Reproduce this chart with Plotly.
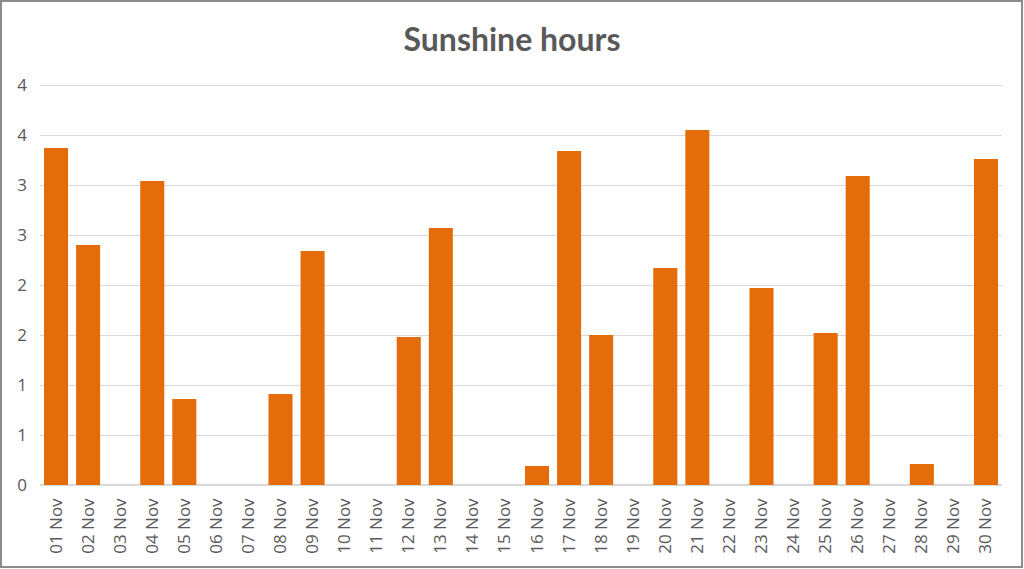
import plotly.graph_objects as go

days = [f"{d:02d} Nov" for d in range(1, 31)]
hours = [3.37, 2.40, 0, 3.04, 0.86, 0, 0, 0.91, 2.34, 0,
         0, 1.48, 2.57, 0, 0, 0.19, 3.34, 1.50, 0, 2.17,
         3.55, 0, 1.97, 0, 1.52, 3.09, 0, 0.21, 0, 3.26]
ytick_vals = [0, 0.5, 1, 1.5, 2, 2.5, 3, 3.5, 4]
ytick_text = ["0", "1", "1", "2", "2", "3", "3", "4", "4"]

W, H = 1024, 569
L, R, T, B = 40, 22, 80, 84
pw, ph = W - L - R, H - T - B
base = H - B  # pixel row of the plot bottom

fig = go.Figure(go.Bar(x=days, y=hours, marker=dict(color="#E46C0A", line=dict(width=0)),
                       width=0.75))
fig.update_layout(
    width=W, height=H,
    margin=dict(l=L, r=R, t=T, b=B),
    paper_bgcolor="white", plot_bgcolor="white",
    title=dict(text="<b>Sunshine hours</b>", x=0.5, xanchor="center", y=1 - 40 / H, yanchor="middle",
               font=dict(family="Lato", size=32, color="#595959")),
    font=dict(family="Open Sans", color="#595959", size=17),
    xaxis=dict(tickangle=-90, showgrid=False, showline=False, ticks="", range=[-0.5, 29.5],
               ticklabelstandoff=9, tickfont=dict(size=17, color="#595959")),
    yaxis=dict(range=[0, 4.05], tickvals=ytick_vals, ticktext=ytick_text, showgrid=True,
               gridcolor="#D9D9D9", gridwidth=1, zeroline=True, zerolinecolor="#D9D9D9",
               ticks="", showline=False, ticklabelstandoff=12,
               tickfont=dict(size=17, color="#595959")),
    showlegend=False,
    bargap=0.25,
    shapes=[dict(type="rect", xref="paper", yref="paper",
                 x0=(1 - L) / pw, x1=(W - 2 - L) / pw,
                 y0=(base - (H - 2)) / ph, y1=(base - 1) / ph,
                 line=dict(color="#8C8C8C", width=2), fillcolor="rgba(0,0,0,0)")],
)
fig.write_html("out.html")
